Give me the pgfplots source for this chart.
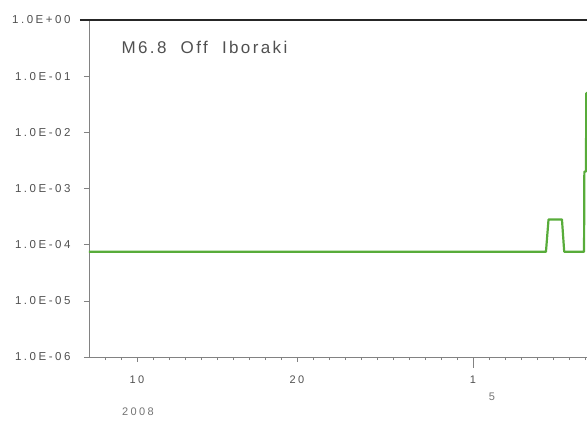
\documentclass[border=0pt]{standalone}
\usepackage{fontspec}
\setmainfont{Liberation Sans}
\newfontfamily\spaced[LetterSpace=22]{Liberation Sans}
\newfontfamily\titlefont[LetterSpace=14]{Liberation Sans}
\usepackage{pgfplots}
\pgfplotsset{compat=1.18}
\definecolor{lgreen}{RGB}{88,172,58}
\definecolor{txt}{RGB}{80,80,80}
\definecolor{axg}{RGB}{130,130,130}
\begin{document}
\begin{tikzpicture}[x=1pt,y=1pt]
\useasboundingbox (-89,-67) rectangle (498,357);
\begin{axis}[at={(0,0)}, anchor=south west, scale only axis,
  width=498pt, height=337pt,
  xmin=7, xmax=38.125, ymode=log, ymin=1e-6, ymax=1,
  yminorticks=false,
  axis lines=left, axis line style={-, axg, line width=0.7pt},
  ytick={1e-6,1e-5,1e-4,1e-3,1e-2,1e-1,1},
  yticklabels={1.0E-06,1.0E-05,1.0E-04,1.0E-03,1.0E-02,1.0E-01,1.0E+00},
  xtick={10,20,31}, xticklabels={10,20,1},
  minor xtick={8,9,11,12,13,14,15,16,17,18,19,21,22,23,24,25,26,27,28,29,30,32,33,34,35,36,37,38},
  tick align=outside,
  tick style={axg, line width=0.6pt},
  major tick length=5pt,
  minor tick length=3pt,
  yticklabel style={font=\spaced\fontsize{11.5}{13}\selectfont, text=txt, xshift=-10pt},
  xticklabel style={font=\spaced\fontsize{11}{12}\selectfont, text=txt, yshift=-10pt},
  clip=false,
]
\addplot[lgreen, line width=2.2pt, line join=round] coordinates {
  (7,7.5e-5) (35.56,7.5e-5) (35.72,2.8e-4) (36.56,2.8e-4) (36.7,7.5e-5)
  (37.94,7.5e-5) (37.96,2.0e-3) (38.06,2.0e-3) (38.08,5.0e-2) (38.125,5.0e-2)
};
\draw[axg, line width=0.7pt] (axis cs:31,1e-6) -- ++(0pt,-11pt);
\end{axis}
\draw[black!85, line width=1.1pt] (-9,337) -- (498,337);
\node[anchor=west, text=txt, font=\titlefont\fontsize{17}{20}\selectfont] at (29,310) {M6.8\ \ Off\ \ Iboraki};
\node[text=txt!80, font=\spaced\fontsize{11}{12}\selectfont] at (403,-40) {5};
\node[text=txt!80, font=\spaced\fontsize{11}{12}\selectfont] at (49,-55) {2008};
\end{tikzpicture}
\end{document}
